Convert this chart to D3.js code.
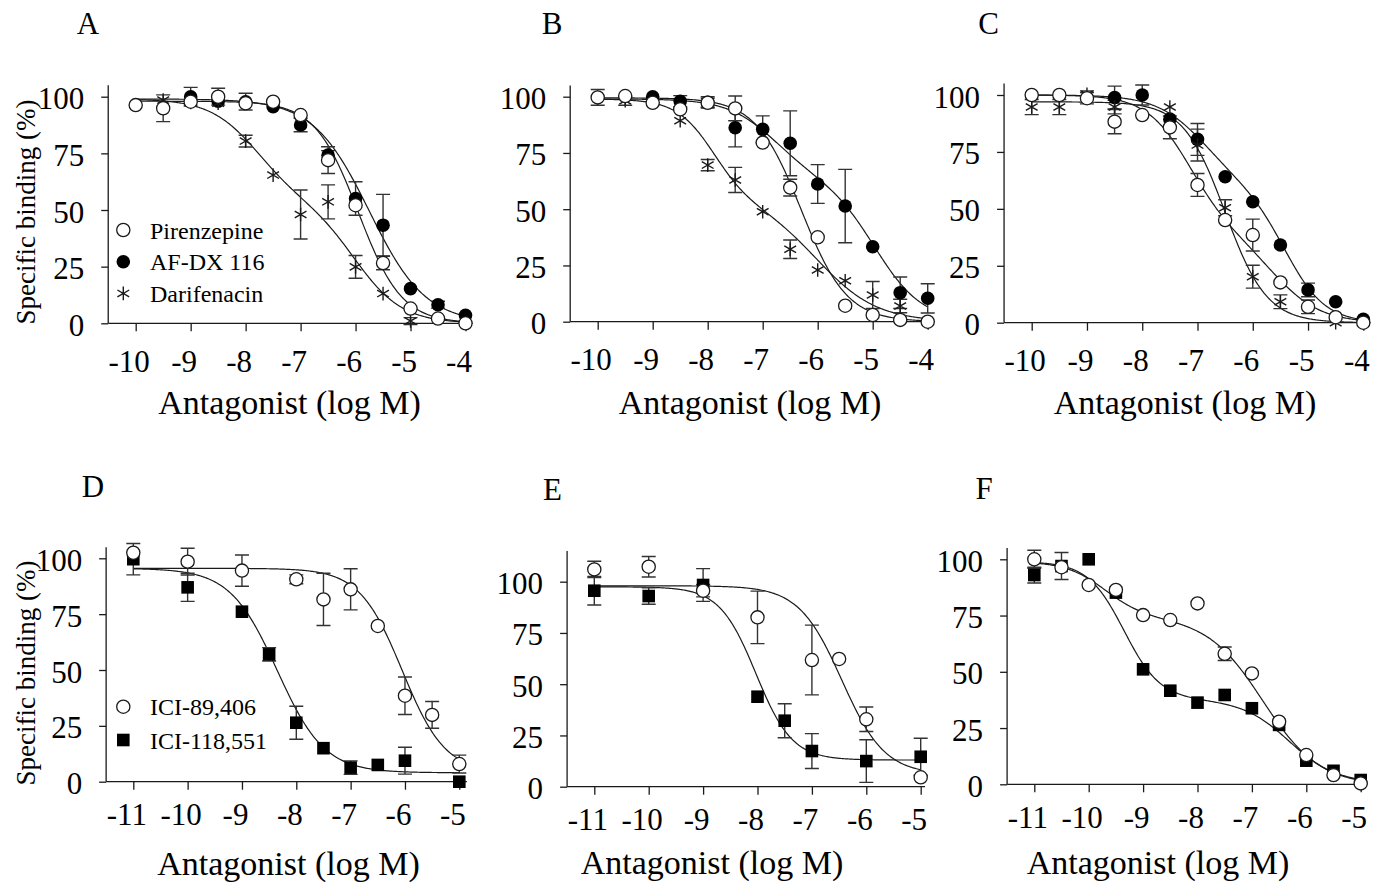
<!DOCTYPE html>
<html><head><meta charset="utf-8">
<script src="https://cdn.jsdelivr.net/npm/d3@7"></script>
<style>
body{margin:0;background:#fff}
text{font-family:"Liberation Serif","Times New Roman",serif;fill:#000}
</style></head><body>
<svg id="chart" width="1384" height="885"></svg>
<script>
// ---------- tick labels ----------
const xTicksTop = [-10, -9, -8, -7, -6, -5, -4];
const xTicksBottom = [-11, -10, -9, -8, -7, -6, -5];
const yTicks = [0, 25, 50, 75, 100];

// ---------- Panel A ----------
const A_pir_x = [-10, -9.5, -9, -8.5, -8, -7.5, -7, -6.5, -6, -5.5, -5, -4.5, -4];
const A_pir_y = [96.3, 94.9, 97.8, 100, 97.1, 97.8, 91.9, 72, 52.1, 26.6, 6.5, 2.1, 0];
const A_pir_e = [0, 5.9, 0, 3.7, 0, 0, 0, 5.9, 0, 3, 0, 0, 0];
const A_afdx_x = [-9, -8.5, -8, -7.5, -7, -6.5, -6, -5.5, -5, -4.5, -4];
const A_afdx_y = [100, 98, 97.8, 95.6, 87.5, 74.2, 55.1, 43.3, 15.3, 8.2, 3.5];
const A_afdx_e = [4.1, 0, 3.7, 0, 3, 2, 7.4, 13.6, 0, 1.5, 0];
const A_dar_x = [-9.5, -9, -8.5, -8, -7.5, -7, -6.5, -6, -5.5, -5];
const A_dar_y = [98.5, 97.5, 97.1, 80.4, 65.4, 48, 53.6, 24.9, 13.1, 1];
const A_dar_e = [0, 0, 0, 2.6, 0, 10.8, 7.5, 5, 0, 1.5];

// ---------- Panel B ----------
const B_pir_x = [-10, -9.5, -9, -8.5, -8, -7.5, -7, -6.5, -6, -5.5, -5, -4.5, -4];
const B_pir_y = [99.7, 100.3, 97.3, 94.4, 97.3, 94.8, 79.6, 59.6, 37.5, 7.1, 3, 0.8, 0];
const B_pir_e = [3.5, 0, 0, 0, 2, 5.5, 0, 3.7, 0, 0, 0, 0, 0];
const B_afdx_x = [-9, -8.5, -8, -7.5, -7, -6.5, -6, -5.5, -5, -4.5, -4];
const B_afdx_y = [100, 98, 97.5, 86.2, 85.5, 79.3, 61.2, 51.4, 33.3, 12.9, 10.4];
const B_afdx_e = [0, 2.5, 2.5, 8.5, 6, 14.4, 8.6, 16.3, 0, 7, 6.5];
const B_dar_x = [-9.5, -8.5, -8, -7.5, -7, -6.5, -6, -5.5, -5, -4.5];
const B_dar_y = [98.2, 89.3, 69.6, 63, 48.9, 32.2, 23, 18.2, 11.9, 7];
const B_dar_e = [2, 0, 2.5, 5.6, 0, 4.1, 0, 0, 6, 3];

// ---------- Panel C ----------
const C_pir_x = [-10, -9.5, -9, -8.5, -8, -7.5, -7, -6.5, -6, -5.5, -5, -4.5, -4];
const C_pir_y = [100, 100, 98.6, 88.3, 91.2, 85.8, 60.5, 45.1, 38.5, 17.7, 7, 2.4, 0];
const C_pir_e = [0, 0, 2.5, 5.3, 0, 5, 5, 0, 7, 0, 3, 0, 0];
const C_afdx_x = [-8.5, -8, -7.5, -7, -6.5, -6, -5.5, -5, -4.5, -4];
const C_afdx_y = [98.9, 100, 89.4, 80.5, 64.1, 53.1, 34.1, 14.4, 9.2, 1.5];
const C_afdx_e = [5, 4.4, 0, 7, 0, 0, 0, 3, 0, 0];
const C_dar_x = [-10, -9.5, -9, -8.5, -7.5, -7, -6.5, -6, -5.5, -4.5];
const C_dar_y = [94.7, 94.7, 100.3, 94.7, 94.7, 78, 50.5, 20.2, 9.2, 0];
const C_dar_e = [3.3, 3.3, 1.5, 3, 0, 7, 3.5, 5, 3, 0];

// ---------- Panel D ----------
const D_89_x = [-11, -10, -9, -8, -7.5, -7, -6.5, -6, -5.5, -5];
const D_89_y = [102.5, 98.5, 94.5, 90.6, 81.6, 86.1, 69.7, 38.5, 29.9, 7.9];
const D_89_e = [0, 6, 7, 2, 11.7, 9.2, 0, 8.4, 6, 4];
const D_118_x = [-11, -10, -9, -8.5, -8, -7.5, -7, -6.5, -6, -5];
const D_118_y = [99.6, 87, 76.1, 57, 26.4, 15, 6.3, 7.5, 9.4, 0];
const D_118_e = [7, 6.3, 0, 3, 7.4, 0, 3, 0, 6, 0];

// ---------- Panel E ----------
const E_89_x = [-11, -10, -9, -8, -7, -6.5, -6, -5];
const E_89_y = [106, 107.3, 95.6, 82.6, 61.8, 62.3, 32.9, 4.6];
const E_89_e = [4, 5, 3, 12.8, 17, 0, 6, 0];
const E_118_x = [-11, -10, -9, -8, -7.5, -7, -6, -5];
const E_118_y = [95.6, 93, 98.4, 43.9, 32.2, 17.4, 12.5, 14.6];
const E_118_e = [7, 4, 8, 0, 8.3, 8.5, 10.4, 9];

// ---------- Panel F ----------
const F_89_x = [-11, -10.5, -10, -9.5, -9, -8.5, -8, -7.5, -7, -6.5, -6, -5.5, -5];
const F_89_y = [100, 96.5, 88.6, 86.4, 75.2, 73, 80.4, 58, 49.3, 27.8, 13, 4.1, 0.4];
const F_89_e = [4, 0, 0, 0, 0, 0, 0, 3, 0, 0, 0, 0, 0];
const F_118_x = [-11, -10.5, -10, -9.5, -9, -8.5, -8, -7.5, -7, -6.5, -6, -5.5, -5];
const F_118_y = [93, 97, 100, 85.2, 51.1, 41.6, 36.3, 39.7, 33.8, 26.4, 10.5, 6, 1.9];
const F_118_e = [3.5, 6, 0, 0, 0, 0, 0, 0, 0, 0, 0, 0, 0];

// ---------- fitted curve parameters: [top, bottom, fraction1, logIC50_1, hill1, logIC50_2, hill2] ----------
const fitA_pir = [98, 0, 1, -5.95, 1.1, 0, 1];
const fitA_afdx = [99, 0, 1, -5.75, 0.85, 0, 1];
const fitA_dar = [99, 0, 0.45, -7.8, 1, -6.0, 1];
const fitB_pir = [99.5, 0, 1, -6.3, 1.05, 0, 1];
const fitB_afdx = [99, 0, 0.35, -6.8, 1, -4.95, 1];
const fitB_dar = [99, 0, 0.45, -7.9, 1.3, -6.0, 0.8];
const fitC_pir = [100, 0, 0.6, -7.15, 1.1, -5.6, 1];
const fitC_afdx = [100, 0, 0.4, -6.9, 1, -5.4, 1.2];
const fitC_dar = [97, 0, 1, -6.5, 1.15, 0, 1];
const fitD_89 = [95.5, 4, 1, -6.05, 1.1, 0, 1];
const fitD_118 = [95.5, 4, 1, -8.35, 1.0, 0, 1];
const fitE_89 = [98, 6, 1, -6.45, 1.1, 0, 1];
const fitE_118 = [97.5, 13, 1, -8.03, 1.3, 0, 1];
const fitF_89 = [99, 0, 0.25, -9.7, 1.2, -6.8, 0.85];
const fitF_118 = [99, 0, 0.62, -9.35, 1.3, -6.3, 1];

const legendTop = ["Pirenzepine", "AF-DX 116", "Darifenacin"];
const legendBottom = ["ICI-89,406", "ICI-118,551"];
const panelNames = ["A", "B", "C", "D", "E", "F"];
const xTitle = "Antagonist (log M)";
const yTitle = "Specific binding (%)";

// ---------- layout (pixels) ----------
const layout = {
  A: {ticks: xTicksTop, p0: 135.7, p1: 465.5, y0: 323.3, y100: 96.7, xmin: -10.5, xmax: -3.87, ymax: 105, tOff: 48.5, letter: [88, 34], title: [289.5, 414]},
  B: {ticks: xTicksTop, p0: 597.7, p1: 927.7, y0: 321.7, y100: 96.7, xmin: -10.5, xmax: -3.87, ymax: 105, tOff: 48.5, letter: [552, 34], title: [750, 414]},
  C: {ticks: xTicksTop, p0: 1031.7, p1: 1363.3, y0: 322.7, y100: 95, xmin: -10.5, xmax: -3.87, ymax: 105, tOff: 48.5, letter: [988.5, 34], title: [1185, 414]},
  D: {ticks: xTicksBottom, p0: 133.3, p1: 459.3, y0: 781.7, y100: 558.3, xmin: -11.5, xmax: -4.86, ymax: 105, tOff: 43.5, letter: [93, 497], title: [288.5, 875]},
  E: {ticks: xTicksBottom, p0: 594.3, p1: 920.7, y0: 786.7, y100: 581.7, xmin: -11.5, xmax: -4.92, ymax: 115, tOff: 43.5, letter: [552.5, 500], title: [712, 874]},
  F: {ticks: xTicksBottom, p0: 1034.3, p1: 1360.7, y0: 784.3, y100: 559.3, xmin: -11.5, xmax: -4.88, ymax: 105, tOff: 43.5, letter: [984, 499], title: [1158, 874]}
};

const series = [
  {p: "A", x: A_afdx_x, y: A_afdx_y, e: A_afdx_e, sym: "filled", fit: fitA_afdx, r: [-10, -4]},
  {p: "A", x: A_dar_x, y: A_dar_y, e: A_dar_e, sym: "star", fit: fitA_dar, r: [-10, -4]},
  {p: "A", x: A_pir_x, y: A_pir_y, e: A_pir_e, sym: "open", fit: fitA_pir, r: [-10, -4]},
  {p: "B", x: B_afdx_x, y: B_afdx_y, e: B_afdx_e, sym: "filled", fit: fitB_afdx, r: [-10, -4]},
  {p: "B", x: B_dar_x, y: B_dar_y, e: B_dar_e, sym: "star", fit: fitB_dar, r: [-10, -4]},
  {p: "B", x: B_pir_x, y: B_pir_y, e: B_pir_e, sym: "open", fit: fitB_pir, r: [-10, -4]},
  {p: "C", x: C_afdx_x, y: C_afdx_y, e: C_afdx_e, sym: "filled", fit: fitC_afdx, r: [-10, -4]},
  {p: "C", x: C_dar_x, y: C_dar_y, e: C_dar_e, sym: "star", fit: fitC_dar, r: [-10, -4]},
  {p: "C", x: C_pir_x, y: C_pir_y, e: C_pir_e, sym: "open", fit: fitC_pir, r: [-10, -4]},
  {p: "D", x: D_118_x, y: D_118_y, e: D_118_e, sym: "square", fit: fitD_118, r: [-11, -5]},
  {p: "D", x: D_89_x, y: D_89_y, e: D_89_e, sym: "open", fit: fitD_89, r: [-11, -5]},
  {p: "E", x: E_118_x, y: E_118_y, e: E_118_e, sym: "square", fit: fitE_118, r: [-11, -5]},
  {p: "E", x: E_89_x, y: E_89_y, e: E_89_e, sym: "open", fit: fitE_89, r: [-11, -5]},
  {p: "F", x: F_118_x, y: F_118_y, e: F_118_e, sym: "square", fit: fitF_118, r: [-11, -5]},
  {p: "F", x: F_89_x, y: F_89_y, e: F_89_e, sym: "open", fit: fitF_89, r: [-11, -5]}
];

function model(p, x) {
  const [top, bottom, f1, c1, h1, c2, h2] = p;
  const s1 = 1 / (1 + Math.pow(10, (x - c1) * h1));
  const s2 = f1 < 1 ? 1 / (1 + Math.pow(10, (x - c2) * h2)) : 0;
  return bottom + (top - bottom) * (f1 * s1 + (1 - f1) * s2);
}

const svg = d3.select("#chart");
const INK = "#1a1a1a";
const scales = {};

panelNames.forEach(name => {
  const L = layout[name];
  const t = L.ticks;
  const x = d3.scaleLinear().domain([t[0], t[t.length - 1]]).range([L.p0, L.p1]);
  const y = d3.scaleLinear().domain([0, 100]).range([L.y0, L.y100]);
  scales[name] = {x, y};
  const g = svg.append("g");
  const ax = x(L.xmin);

  // x axis
  const gx = g.append("g").attr("transform", `translate(0,${y(0)})`)
    .call(d3.axisBottom(x).tickValues(t).tickSize(8).tickFormat(d => String(d)));
  gx.select(".domain").remove();
  gx.append("line").attr("x1", ax).attr("x2", x(L.xmax)).attr("y1", 0).attr("y2", 0)
    .attr("stroke", INK).attr("stroke-width", 1.3);
  gx.selectAll(".tick line").attr("stroke", INK).attr("stroke-width", 1.3);
  gx.selectAll(".tick text").attr("y", L.tOff).attr("dy", null).attr("dx", -7)
    .attr("font-size", 31).attr("font-family", '"Liberation Serif","Times New Roman",serif').attr("fill", "#000");

  // y axis
  const gy = g.append("g").attr("transform", `translate(${ax},0)`)
    .call(d3.axisLeft(y).tickValues(yTicks).tickSize(7).tickFormat(d => String(d)));
  gy.select(".domain").remove();
  gy.append("line").attr("x1", 0).attr("x2", 0).attr("y1", y(0)).attr("y2", y(L.ymax))
    .attr("stroke", INK).attr("stroke-width", 1.3);
  gy.selectAll(".tick line").attr("stroke", INK).attr("stroke-width", 1.3);
  gy.selectAll(".tick text").attr("x", -24).attr("dy", 12)
    .attr("font-size", 31).attr("font-family", '"Liberation Serif","Times New Roman",serif').attr("fill", "#000");

  // panel letter
  g.append("text").attr("x", L.letter[0]).attr("y", L.letter[1]).attr("text-anchor", "middle")
    .attr("font-size", 31).text(name);
  // x title
  g.append("text").attr("x", L.title[0]).attr("y", L.title[1]).attr("text-anchor", "middle")
    .attr("font-size", 34).text(xTitle);
});

// y titles
[["A", 212], ["D", 673]].forEach(([n, cy]) => {
  svg.append("text").attr("transform", `translate(35,${cy}) rotate(-90)`)
    .attr("text-anchor", "middle").attr("font-size", 27).text(yTitle);
});

function drawSymbol(g, sym, cx, cy) {
  if (sym === "open") {
    g.append("circle").attr("cx", cx).attr("cy", cy).attr("r", 6.6)
      .attr("fill", "#fff").attr("stroke", INK).attr("stroke-width", 1.3);
  } else if (sym === "filled") {
    g.append("circle").attr("cx", cx).attr("cy", cy).attr("r", 6.8).attr("fill", "#000");
  } else if (sym === "square") {
    g.append("rect").attr("x", cx - 6.3).attr("y", cy - 6.3).attr("width", 12.6).attr("height", 12.6).attr("fill", "#000");
  } else if (sym === "star") {
    const r = 6.8;
    let d = "";
    [90, 30, -30].forEach(a => {
      const rad = a * Math.PI / 180;
      const dx = r * Math.cos(rad), dy = r * Math.sin(rad);
      d += `M${cx - dx},${cy - dy}L${cx + dx},${cy + dy}`;
    });
    g.append("path").attr("d", d).attr("stroke", INK).attr("stroke-width", 1.4).attr("fill", "none");
  }
}

// curves
const curveLayer = svg.append("g");
const errLayer = svg.append("g");
const markLayer = svg.append("g");
series.forEach(s => {
  const {x, y} = scales[s.p];
  const pts = d3.range(s.r[0], s.r[1] + 0.0001, 0.02).map(v => [v, model(s.fit, v)]);
  curveLayer.append("path").datum(pts)
    .attr("d", d3.line().x(d => x(d[0])).y(d => y(d[1])))
    .attr("fill", "none").attr("stroke", INK).attr("stroke-width", 1.2);
});
series.forEach(s => {
  const {x, y} = scales[s.p];
  s.x.forEach((v, i) => {
    const e = s.e[i];
    if (e > 0) {
      const cx = x(v);
      const ya = y(s.y[i] - e), yb = y(s.y[i] + e);
      errLayer.append("path")
        .attr("d", `M${cx},${ya}L${cx},${yb}M${cx - 7},${ya}L${cx + 7},${ya}M${cx - 7},${yb}L${cx + 7},${yb}`)
        .attr("stroke", "#333").attr("stroke-width", 1.4).attr("fill", "none");
    }
  });
});
series.forEach(s => {
  const {x, y} = scales[s.p];
  s.x.forEach((v, i) => drawSymbol(markLayer, s.sym, x(v), y(s.y[i])));
});

// legends
const legSyms = ["open", "filled", "star"];
legendTop.forEach((txt, i) => {
  const cy = 230 + i * 31.7;
  drawSymbol(svg, legSyms[i], 123.3, cy);
  svg.append("text").attr("x", 150).attr("y", cy + 8.5).attr("font-size", 24).text(txt);
});
const legSymsB = ["open", "square"];
legendBottom.forEach((txt, i) => {
  const cy = 706.7 + i * 33.3;
  drawSymbol(svg, legSymsB[i], 123.3, cy);
  svg.append("text").attr("x", 150).attr("y", cy + 8.5).attr("font-size", 24).text(txt);
});
</script>
</body></html>
